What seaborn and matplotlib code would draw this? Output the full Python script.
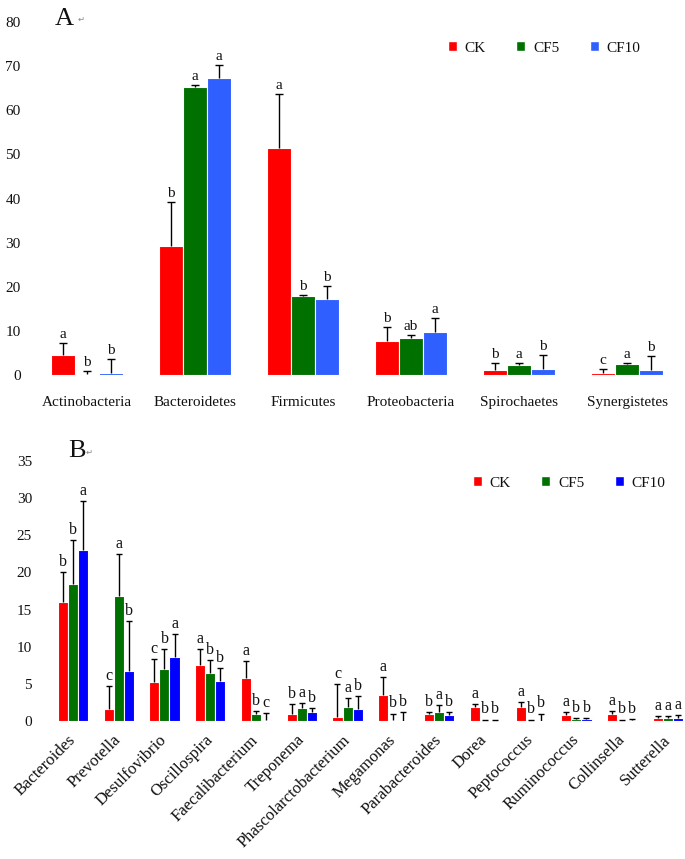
import matplotlib
matplotlib.use("Agg")
import matplotlib.pyplot as plt
import pandas as pd
import seaborn as sns
from matplotlib.patches import Patch

groups = ["CK", "CF5", "CF10"]

# panel A: phylum level relative abundance (%)
phyla = ["Actinobacteria", "Bacteroidetes", "Firmicutes", "Proteobacteria", "Spirochaetes", "Synergistetes"]
phyla_ck = [4.5, 29.3, 51.4, 7.7, 1.2, 0.5]
phyla_cf5 = [0.3, 65.2, 17.8, 8.4, 2.2, 2.4]
phyla_cf10 = [0.5, 67.3, 17.2, 9.8, 1.4, 1.2]
phyla_ck_sd = [2.8, 10.0, 12.2, 3.2, 1.6, 0.9]
phyla_cf5_sd = [0.5, 0.6, 0.4, 0.7, 0.5, 0.4]
phyla_cf10_sd = [3.1, 2.9, 3.0, 3.1, 3.1, 3.1]
phyla_ck_sig = ["a", "b", "a", "b", "b", "c"]
phyla_cf5_sig = ["b", "a", "b", "ab", "a", "a"]
phyla_cf10_sig = ["b", "a", "b", "a", "b", "b"]

# panel B: genus level relative abundance (%)
genera = ["Bacteroides", "Prevotella", "Desulfovibrio", "Oscillospira", "Faecalibacterium",
          "Treponema", "Phascolarctobacterium", "Megamonas", "Parabacteroides", "Dorea",
          "Peptococcus", "Ruminococcus", "Collinsella", "Sutterella"]
genera_ck = [16.0, 1.6, 5.3, 7.6, 5.8, 1.0, 0.6, 3.5, 0.9, 1.9, 1.9, 0.8, 1.0, 0.4]
genera_cf5 = [18.4, 16.8, 7.0, 6.4, 0.9, 1.7, 1.9, 0.1, 1.2, 0.05, 0.05, 0.3, 0.1, 0.4]
genera_cf10 = [23.0, 6.7, 8.6, 5.4, 0.2, 1.2, 1.6, 0.05, 0.8, 0.05, 0.05, 0.3, 0.1, 0.4]
genera_ck_sd = [4.0, 3.1, 3.1, 2.1, 2.3, 1.3, 4.4, 2.4, 0.3, 0.4, 0.7, 0.4, 0.4, 0.3]
genera_cf5_sd = [6.0, 5.7, 2.7, 1.8, 0.5, 0.7, 1.2, 0.9, 0.9, 0.15, 0.15, 0.1, 0.1, 0.3]
genera_cf10_sd = [6.6, 6.8, 3.1, 1.7, 0.9, 0.5, 1.7, 1.15, 0.4, 0.15, 0.95, 0.1, 0.2, 0.4]
genera_ck_sig = ["b", "c", "c", "a", "a", "b", "c", "a", "b", "a", "a", "a", "a", "a"]
genera_cf5_sig = ["b", "a", "b", "b", "b", "a", "a", "b", "a", "b", "b", "b", "b", "a"]
genera_cf10_sig = ["a", "b", "a", "b", "c", "b", "b", "b", "b", "b", "b", "b", "b", "a"]

colors_a = ["#FF0000", "#007000", "#2F60FF"]
colors_b = ["#FF0000", "#007000", "#0000FF"]

sns.set_theme(style="white")
plt.rcParams["font.family"] = ["Liberation Serif", "DejaVu Sans"]
plt.rcParams["text.color"] = "#111111"


def draw_panel(ax, cats, means, sds, sigs, palette, width, capsize, sig_size):
    rows = []
    for g, vals in zip(groups, means):
        for c, v in zip(cats, vals):
            rows.append({"taxon": c, "group": g, "value": v})
    df = pd.DataFrame(rows)
    sns.barplot(data=df, x="taxon", y="value", hue="group", order=cats, hue_order=groups,
                palette=palette, saturation=1, width=width, errorbar=None,
                edgecolor="white", linewidth=0.8, legend=False, ax=ax)
    for container, sd, sig in zip(ax.containers, sds, sigs):
        xs = [b.get_x() + b.get_width() / 2 for b in container]
        ys = [b.get_height() for b in container]
        _, caps, _ = ax.errorbar(xs, ys, yerr=[[0] * len(sd), sd], fmt="none", ecolor="black",
                                 elinewidth=1, capsize=capsize, capthick=1)
        caps[0].set_visible(False)
        for x, y, s, lab in zip(xs, ys, sd, sig):
            ax.annotate(lab, (x, y + s), xytext=(0, 1.5), textcoords="offset points",
                        ha="center", va="bottom", fontsize=sig_size)
    ax.set_xlabel("")
    ax.set_ylabel("")
    sns.despine(ax=ax, left=True, bottom=True)
    ax.tick_params(axis="both", length=0, labelsize=11, colors="#111111")


fig = plt.figure(figsize=(6.85, 8.59), dpi=100)
W, H = 685, 859

axA = fig.add_axes([33 / W, 1 - 375 / H, 648 / W, 353 / H])
draw_panel(axA, phyla, [phyla_ck, phyla_cf5, phyla_cf10],
           [phyla_ck_sd, phyla_cf5_sd, phyla_cf10_sd],
           [phyla_ck_sig, phyla_cf5_sig, phyla_cf10_sig], colors_a, 0.66, 3, 11)
axA.set_ylim(0, 80)
axA.set_yticks(range(0, 81, 10))
axA.set_xlim(-0.5, 5.5)
axA.tick_params(axis="x", pad=15)
axA.tick_params(axis="y", pad=9)
axA.legend(handles=[Patch(facecolor=c, label=g) for c, g in zip(colors_a, groups)],
           loc="center", bbox_to_anchor=(544 / W, 1 - 48 / H), bbox_transform=fig.transFigure,
           ncol=3, frameon=False, fontsize=11, handlelength=0.6, handleheight=0.6,
           handletextpad=0.5, columnspacing=2.0)

axB = fig.add_axes([50 / W, 1 - 721 / H, 634 / W, 260 / H])
draw_panel(axB, genera, [genera_ck, genera_cf5, genera_cf10],
           [genera_ck_sd, genera_cf5_sd, genera_cf10_sd],
           [genera_ck_sig, genera_cf5_sig, genera_cf10_sig], colors_b, 0.66, 2.5, 11.5)
axB.set_ylim(0, 35)
axB.set_yticks(range(0, 36, 5))
axB.set_xlim(-0.5, 13.35)
axB.tick_params(axis="x", pad=12, labelsize=12)
axB.tick_params(axis="y", pad=13)
plt.setp(axB.get_xticklabels(), rotation=45, ha="right", va="center", rotation_mode="anchor")
axB.legend(handles=[Patch(facecolor=c, label=g) for c, g in zip(colors_b, groups)],
           loc="center", bbox_to_anchor=(569 / W, 1 - 483 / H), bbox_transform=fig.transFigure,
           ncol=3, frameon=False, fontsize=11, handlelength=0.6, handleheight=0.6,
           handletextpad=0.5, columnspacing=2.0)

fig.text(55 / W, 1 - 25 / H, "A", fontsize=19, va="baseline")
fig.text(78 / W, 1 - 22 / H, "\u21b5", fontsize=6, color="#888888", va="baseline")
fig.text(68 / W, 1 - 457 / H, "B", fontsize=19, va="baseline")
fig.text(86 / W, 1 - 455 / H, "\u21b5", fontsize=6, color="#888888", va="baseline")

fig.savefig("out.png", dpi=100, facecolor="white")
